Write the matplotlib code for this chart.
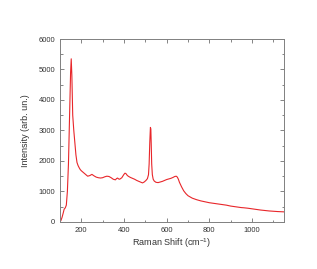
import matplotlib
matplotlib.use("Agg")
import matplotlib.pyplot as plt
from matplotlib.ticker import MultipleLocator

plt.rcParams['font.family'] = ['Liberation Sans', 'DejaVu Sans']
plt.rcParams['mathtext.fontset'] = 'custom'
plt.rcParams['mathtext.rm'] = 'Liberation Sans'
plt.rcParams['mathtext.default'] = 'regular'

# Raman spectrum
shift = [100, 105, 110, 115, 120, 125, 130, 135, 140, 145, 150, 153, 156, 160, 165, 170,
         175, 180, 185, 190, 195, 200, 210, 220, 230, 240, 250, 260, 270, 280, 290, 300,
         310, 320, 330, 340, 350, 360, 365, 370, 375, 380, 390, 400, 405, 410, 415, 420,
         430, 440, 450, 460, 470, 480, 487, 495, 503, 510, 515, 518, 521, 524, 526, 528,
         530, 533, 537, 542, 550, 560, 570, 580, 590, 600, 610, 620, 630, 638, 645, 650,
         655, 660, 670, 680, 690, 700, 720, 740, 760, 780, 800, 820, 840, 860, 880, 900,
         920, 940, 950, 960, 980, 1000, 1020, 1040, 1060, 1080, 1100, 1120, 1150]
intensity = [0, 50, 150, 280, 420, 460, 550, 1000, 1900, 3400, 4900, 5350, 4800, 3500, 3000, 2600,
             2200, 1950, 1850, 1780, 1720, 1680, 1620, 1560, 1500, 1520, 1560, 1510, 1470, 1450, 1440, 1450,
             1480, 1500, 1490, 1450, 1400, 1380, 1420, 1440, 1410, 1400, 1450, 1560, 1600, 1580, 1530, 1500,
             1460, 1430, 1400, 1360, 1330, 1300, 1280, 1310, 1360, 1420, 1550, 1900, 2600, 3100, 3050, 2500,
             1900, 1550, 1400, 1340, 1300, 1290, 1310, 1330, 1360, 1390, 1410, 1430, 1460, 1490, 1500, 1470,
             1400, 1300, 1150, 1020, 930, 860, 780, 730, 690, 660, 630, 610, 590, 570, 550, 520,
             500, 480, 470, 465, 450, 430, 410, 390, 375, 360, 350, 340, 330]

fig = plt.figure(figsize=(3.17, 2.69), dpi=100)
ax = fig.add_axes([0.189, 0.175, 0.707, 0.68])
ax.plot(shift, intensity, color="#e8262a", lw=0.8)

ax.set_xlim(100, 1150)
ax.set_ylim(0, 6000)
ax.xaxis.set_major_locator(MultipleLocator(200))
ax.xaxis.set_minor_locator(MultipleLocator(100))
ax.yaxis.set_major_locator(MultipleLocator(1000))
ax.yaxis.set_minor_locator(MultipleLocator(500))
ax.tick_params(which="both", direction="in", top=True, right=True, labelsize=5.5,
               width=0.6, color="#707070", labelcolor="#333333")
ax.tick_params(which="major", length=3)
ax.tick_params(which="minor", length=1.8)
for s in ax.spines.values():
    s.set_linewidth(0.7)
    s.set_color("#808080")

ax.set_xlabel("Raman Shift (cm$^{-1}$)", fontsize=6.5, labelpad=2, color="#333333")
ax.set_ylabel("Intensity (arb. un.)", fontsize=6.5, labelpad=6, color="#333333")

fig.savefig("out.png", dpi=100)
